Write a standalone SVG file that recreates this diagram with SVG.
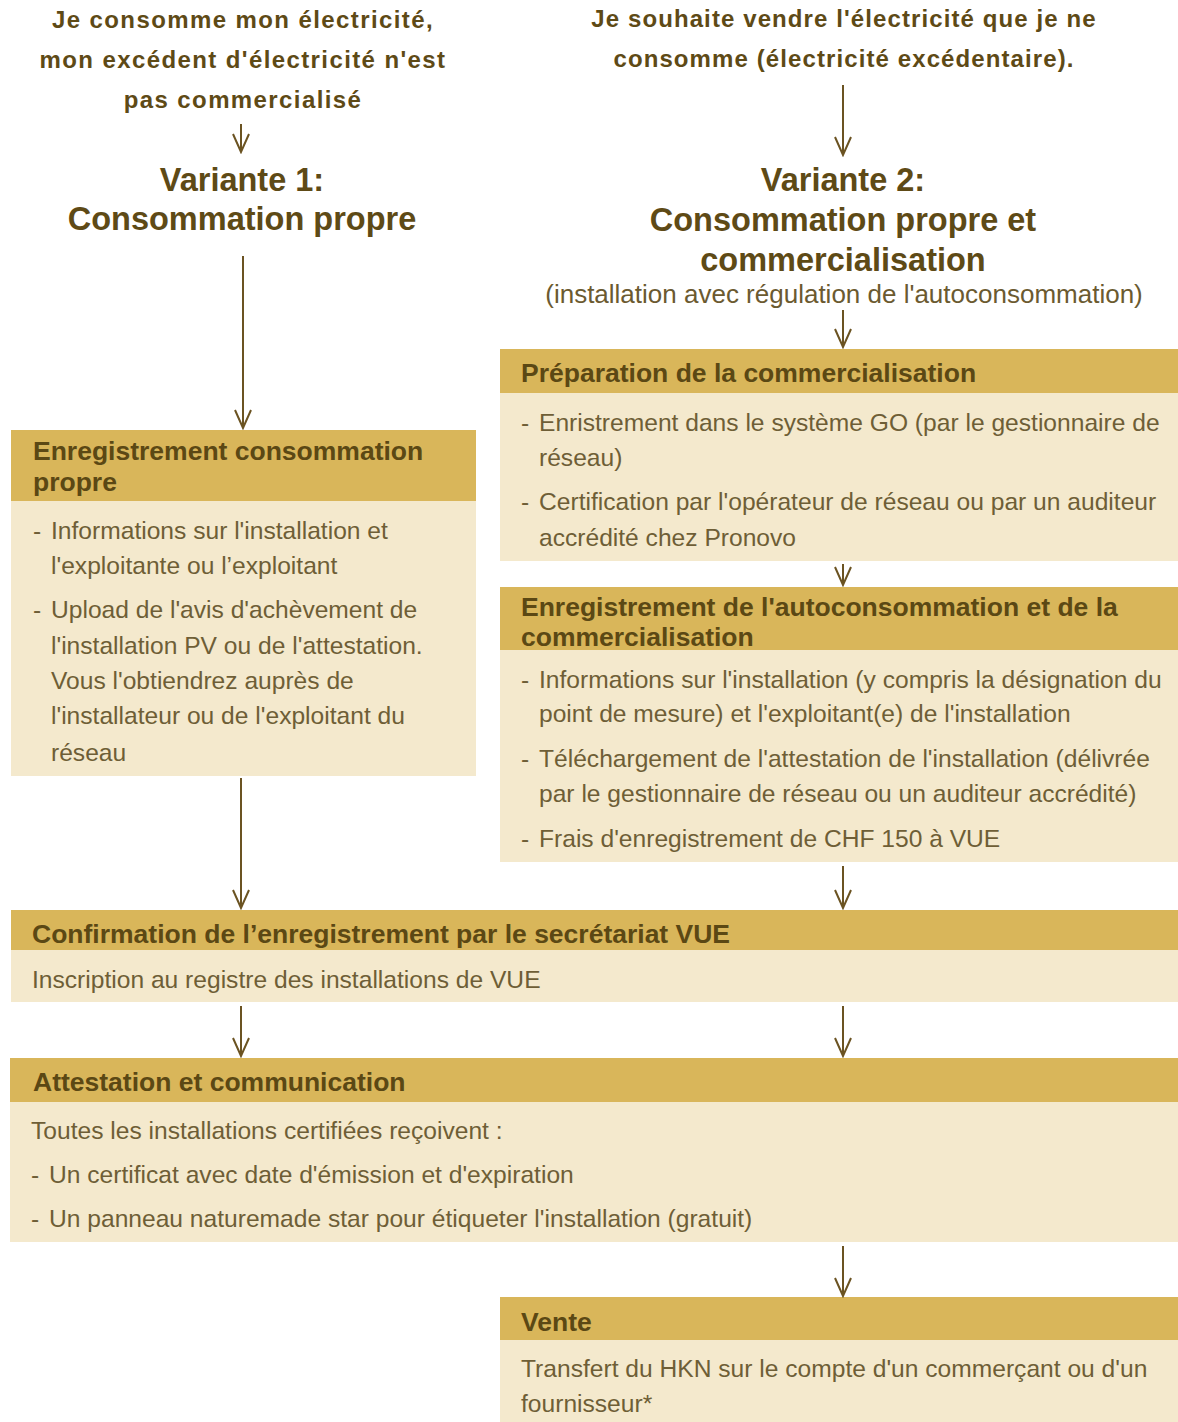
<svg xmlns="http://www.w3.org/2000/svg" width="1178" height="1422" viewBox="0 0 1178 1422">
<defs>
<style>
.bg{fill:#ffffff}
.hd{fill:#D9B65A}
.bd{fill:#F4E9CD}
.q{font-family:"Liberation Sans",Arial,sans-serif;font-weight:bold;font-size:24px;fill:#5E4A16;text-anchor:middle}
.ql{letter-spacing:1.4px}
.qr{letter-spacing:1.1px}
.v{font-family:"Liberation Sans",Arial,sans-serif;font-weight:bold;font-size:32.5px;fill:#5E4A16;text-anchor:middle}
.sub{font-family:"Liberation Sans",Arial,sans-serif;font-size:26px;fill:#6B5A30;text-anchor:middle}
.ht{font-family:"Liberation Sans",Arial,sans-serif;font-weight:bold;font-size:26.5px;fill:#5B4814}
.tx{font-family:"Liberation Sans",Arial,sans-serif;font-size:24.6px;fill:#6E5E36}
.conn line{stroke:#6B5322;stroke-width:2}
</style>
<marker id="ah" markerWidth="22" markerHeight="20" viewBox="-20 -10 22 20" refX="0" refY="0" orient="auto" markerUnits="userSpaceOnUse">
<polyline points="-18,-8 0,0 -18,8" fill="none" stroke="#6B5322" stroke-width="2"/>
</marker>
</defs>
<rect class="bg" width="1178" height="1422"/>

<g id="q1">
<text class="q ql" x="243" y="28">Je consomme mon électricité,</text>
<text class="q ql" x="243" y="68">mon excédent d'électricité n'est</text>
<text class="q ql" x="243" y="108">pas commercialisé</text>
</g>
<g id="q2">
<text class="q qr" x="844" y="27">Je souhaite vendre l'électricité que je ne</text>
<text class="q qr" x="844" y="67">consomme (électricité excédentaire).</text>
</g>
<g id="variante1">
<text class="v" x="242" y="191">Variante 1:</text>
<text class="v" x="242" y="230">Consommation propre</text>
</g>
<g id="variante2">
<text class="v" x="843" y="191">Variante 2:</text>
<text class="v" x="843" y="231">Consommation propre et</text>
<text class="v" x="843" y="271">commercialisation</text>
<text class="sub" x="844" y="303">(installation avec régulation de l'autoconsommation)</text>
</g>

<g id="enreg-conso">
<rect class="hd" x="11" y="430" width="465" height="71"/>
<rect class="bd" x="11" y="501" width="465" height="275"/>
<text class="ht" x="33" y="460">Enregistrement consommation</text>
<text class="ht" x="33" y="491">propre</text>
<text class="tx" x="33" y="539">-</text>
<text class="tx" x="51" y="539">Informations sur l'installation et</text>
<text class="tx" x="51" y="574">l'exploitante ou l’exploitant</text>
<text class="tx" x="33" y="618">-</text>
<text class="tx" x="51" y="618">Upload de l'avis d'achèvement de</text>
<text class="tx" x="51" y="654">l'installation PV ou de l'attestation.</text>
<text class="tx" x="51" y="689">Vous l'obtiendrez auprès de</text>
<text class="tx" x="51" y="724">l'installateur ou de l'exploitant du</text>
<text class="tx" x="51" y="761">réseau</text>
</g>

<g id="preparation">
<rect class="hd" x="500" y="349" width="678" height="44"/>
<rect class="bd" x="500" y="393" width="678" height="168"/>
<text class="ht" x="521" y="382">Préparation de la commercialisation</text>
<text class="tx" x="521" y="431">-</text>
<text class="tx" x="539" y="431">Enristrement dans le système GO (par le gestionnaire de</text>
<text class="tx" x="539" y="466">réseau)</text>
<text class="tx" x="521" y="510">-</text>
<text class="tx" x="539" y="510">Certification par l'opérateur de réseau ou par un auditeur</text>
<text class="tx" x="539" y="546">accrédité chez Pronovo</text>
</g>

<g id="enreg-auto">
<rect class="hd" x="500" y="587" width="678" height="63"/>
<rect class="bd" x="500" y="650" width="678" height="212"/>
<text class="ht" x="521" y="616">Enregistrement de l'autoconsommation et de la</text>
<text class="ht" x="521" y="646">commercialisation</text>
<text class="tx" x="521" y="688">-</text>
<text class="tx" x="539" y="688">Informations sur l'installation (y compris la désignation du</text>
<text class="tx" x="539" y="722">point de mesure) et l'exploitant(e) de l'installation</text>
<text class="tx" x="521" y="767">-</text>
<text class="tx" x="539" y="767">Téléchargement de l'attestation de l'installation (délivrée</text>
<text class="tx" x="539" y="802">par le gestionnaire de réseau ou un auditeur accrédité)</text>
<text class="tx" x="521" y="847">-</text>
<text class="tx" x="539" y="847">Frais d'enregistrement de CHF 150 à VUE</text>
</g>

<g id="confirmation">
<rect class="hd" x="11" y="910" width="1167" height="40"/>
<rect class="bd" x="11" y="950" width="1167" height="52"/>
<text class="ht" x="32" y="943">Confirmation de l’enregistrement par le secrétariat VUE</text>
<text class="tx" x="32" y="988">Inscription au registre des installations de VUE</text>
</g>

<g id="attestation">
<rect class="hd" x="10" y="1058" width="1168" height="44"/>
<rect class="bd" x="10" y="1102" width="1168" height="140"/>
<text class="ht" x="33" y="1091">Attestation et communication</text>
<text class="tx" x="31" y="1139">Toutes les installations certifiées reçoivent :</text>
<text class="tx" x="31" y="1183">-</text>
<text class="tx" x="49" y="1183">Un certificat avec date d'émission et d'expiration</text>
<text class="tx" x="31" y="1227">-</text>
<text class="tx" x="49" y="1227">Un panneau naturemade star pour étiqueter l'installation (gratuit)</text>
</g>

<g id="vente">
<rect class="hd" x="500" y="1297" width="678" height="43"/>
<rect class="bd" x="500" y="1340" width="678" height="82"/>
<text class="ht" x="521" y="1331">Vente</text>
<text class="tx" x="521" y="1377">Transfert du HKN sur le compte d'un commerçant ou d'un</text>
<text class="tx" x="521" y="1412">fournisseur*</text>
</g>

<g id="connectors" class="conn">
<line x1="241" y1="124" x2="241" y2="152" marker-end="url(#ah)"/>
<line x1="243" y1="256" x2="243" y2="428" marker-end="url(#ah)"/>
<line x1="843" y1="85" x2="843" y2="155" marker-end="url(#ah)"/>
<line x1="843" y1="310" x2="843" y2="347" marker-end="url(#ah)"/>
<line x1="843" y1="564" x2="843" y2="585" marker-end="url(#ah)"/>
<line x1="241" y1="778" x2="241" y2="908" marker-end="url(#ah)"/>
<line x1="843" y1="866" x2="843" y2="908" marker-end="url(#ah)"/>
<line x1="241" y1="1006" x2="241" y2="1056" marker-end="url(#ah)"/>
<line x1="843" y1="1006" x2="843" y2="1056" marker-end="url(#ah)"/>
<line x1="843" y1="1246" x2="843" y2="1296" marker-end="url(#ah)"/>
</g>
</svg>
